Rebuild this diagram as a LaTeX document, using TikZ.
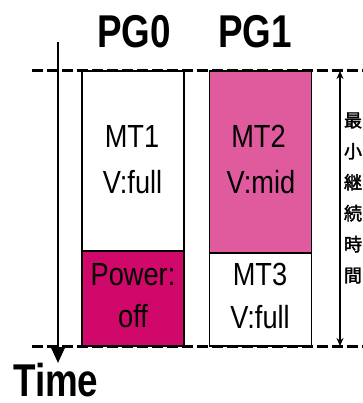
\documentclass[tikz,border=0pt]{standalone}
\usepackage{fontspec}
\setmainfont{Liberation Sans}[FakeStretch=0.85]
\newfontfamily\titlefont{Liberation Sans Bold}[FakeStretch=0.8]
\newfontfamily\cjk{Noto Sans CJK JP}[FakeBold=2]
\usetikzlibrary{arrows.meta}
\definecolor{midpink}{HTML}{E05A9E}
\definecolor{offpink}{HTML}{D0086A}
\tikzset{
  box/.style={draw=black, line width=1.6pt, minimum width=102pt, inner sep=0pt, outer sep=0pt},
  lbl/.style={anchor=base, inner sep=0pt, font=\fontsize{32}{40}\selectfont},
  ttl/.style={anchor=base, inner sep=0pt, font=\titlefont\fontsize{46}{50}\selectfont},
  dashline/.style={line width=3pt, dash pattern=on 11pt off 4pt},
  timearrow/.style={line width=2.4pt, -{Triangle[length=16pt,width=14pt]}},
  spanarrow/.style={line width=2.2pt, {Stealth[length=8pt,width=7pt]}-{Stealth[length=8pt,width=7pt]}}
}
\begin{document}
\begin{tikzpicture}[x=1pt,y=-1pt]
\useasboundingbox (0,0) rectangle (362,403);
% boxes
\node[box, fill=white, minimum height=180pt] (mt1) at (133,161) {};
\node[box, fill=offpink, minimum height=95pt] (pw) at (133,298.5) {};
\node[box, fill=midpink, minimum height=182pt] (mt2) at (260.5,162) {};
\node[box, fill=white, minimum height=93pt] (mt3) at (260.5,299.5) {};
% labels
\node[lbl] (t1a) at (132,148) {MT1};
\node[lbl] (t1b) at (132.5,193) {V:full};
\node[lbl] (t2a) at (258.5,148) {MT2};
\node[lbl] (t2b) at (261,193) {V:mid};
\node[lbl] (t3a) at (133,285) {Power:};
\node[lbl] (t3b) at (133,327) {off};
\node[lbl] (t4a) at (260,285) {MT3};
\node[lbl] (t4b) at (260,328) {V:full};
% titles
\node[ttl] (pg0) at (134,48) {PG0};
\node[ttl] (pg1) at (255,48) {PG1};
\node[ttl, anchor=base west] (time) at (13,396) {Time};
% dashed lines
\coordinate (tl) at (32,71);
\coordinate (tr) at (365,71);
\coordinate (bl) at (32,346);
\coordinate (br) at (365,346);
\draw[dashline] (tl) -- (tr);
\draw[dashline] (bl) -- (br);
% time arrow
\coordinate (ta) at (58,42);
\coordinate (tb) at (58,363);
\draw[timearrow] (ta) -- (tb);
% span arrow
\coordinate (sa) at (340,71);
\coordinate (sb) at (340,346);
\draw[spanarrow] (sa) -- (sb);
\node[inner sep=0pt, align=center, font=\cjk\fontsize{18}{31}\selectfont] (jp) at (353,198) {最\\小\\継\\続\\時\\間};
\end{tikzpicture}
\end{document}
